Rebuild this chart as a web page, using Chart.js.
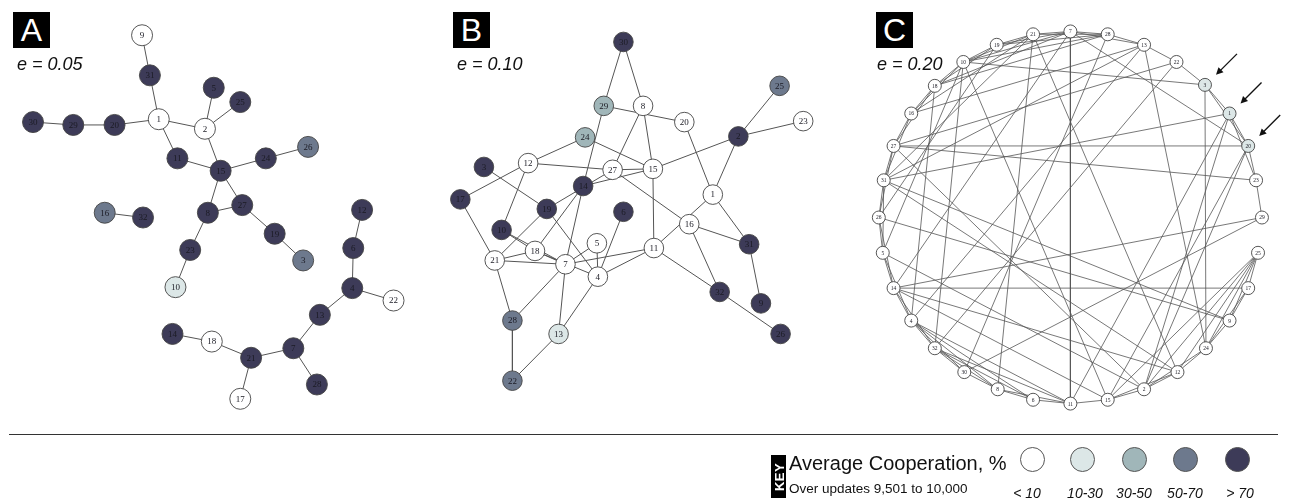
<!DOCTYPE html>
<html>
<head>
<meta charset="utf-8">
<script src="https://cdn.jsdelivr.net/npm/chart.js@4.4.1/dist/chart.umd.min.js"></script>
<style>
  body { margin: 0; background: #fff; font-family: "Liberation Sans", Arial, sans-serif; }
  #wrap { position: relative; width: 1293px; height: 498px; overflow: hidden; }
  #net { position: absolute; left: 0; top: 0; }
  .tag { position: absolute; top: 12px; width: 37px; height: 36px; background: #000; color: #fff;
         font-size: 32px; line-height: 37px; text-align: center; }
  .eq { position: absolute; top: 54px; font-style: italic; font-size: 18px; line-height: 20px; color: #111; }
  .rule { position: absolute; left: 9px; top: 434px; width: 1269px; height: 0; border-top: 1.5px solid #333; }
  .key { position: absolute; left: 771px; top: 455px; width: 15px; height: 43px; background: #000; }
  .key span { position: absolute; left: 50%; top: 50%; transform: translate(-50%, -50%) rotate(-90deg);
              color: #fff; font-weight: bold; font-size: 13px; letter-spacing: 0.5px; }
  .ktitle { position: absolute; left: 789px; top: 452px; font-size: 20px; color: #111; }
  .ksub { position: absolute; left: 789px; top: 481px; font-size: 13.5px; color: #111; }
  .dot { position: absolute; top: 447px; width: 25px; height: 25px; border-radius: 50%; box-sizing: border-box; border: 1px solid #555; }
  .dlab { position: absolute; top: 485px; width: 50px; text-align: center; font-style: italic; font-size: 14px; color: #111; }
</style>
</head>
<body>
<div id="wrap">
  <canvas id="net" width="1293" height="498"></canvas>
  <div class="tag" style="left:13px">A</div>
  <div class="tag" style="left:453px">B</div>
  <div class="tag" style="left:876px">C</div>
  <div class="eq" style="left:17px">e = 0.05</div>
  <div class="eq" style="left:457px">e = 0.10</div>
  <div class="eq" style="left:877px">e = 0.20</div>
  <div class="rule"></div>
  <div class="key"><span>KEY</span></div>
  <div class="ktitle">Average Cooperation, %</div>
  <div class="ksub">Over updates 9,501 to 10,000</div>
  <div id="legend"></div>
</div>
<script>
// cooperation bins
const levelLabels = ['< 10', '10-30', '30-50', '50-70', '> 70'];
const levelColors = ['#ffffff', '#dce7e7', '#a0b6b9', '#6d798d', '#3d3b58'];

// panel A, e = 0.05
const aIds   = [9, 31, 5, 25, 30, 29, 20, 1, 2, 26, 11, 24, 15, 27, 8, 16, 32, 12, 19, 23, 6, 3, 10, 4, 22, 13, 14, 18, 7, 21, 28, 17];
const aX     = [133, 141, 206, 233, 22, 63, 105, 150, 197, 302, 169, 259, 213, 235, 200, 95, 134, 357, 268, 182, 348, 297, 167, 347, 389, 314, 164, 204, 287, 244, 311, 233];
const aY     = [25, 67, 80, 95, 116, 119, 119, 113, 123, 142, 154, 154, 167, 203, 211, 211, 216, 208, 233, 250, 248, 261, 289, 290, 303, 318, 338, 346, 353, 363, 391, 406];
const aLevel = [0, 4, 4, 4, 4, 4, 4, 0, 0, 3, 4, 4, 4, 4, 4, 3, 4, 4, 4, 4, 4, 3, 1, 4, 0, 4, 4, 0, 4, 4, 4, 0];
const aEdges = [[9,31],[31,1],[1,20],[20,29],[29,30],[1,2],[1,11],[2,5],[2,25],[2,15],[11,15],[15,24],[24,26],
  [15,8],[15,27],[8,27],[27,19],[19,3],[8,23],[23,10],[16,32],[12,6],[6,4],[4,22],[4,13],[13,7],[7,21],[7,28],
  [21,18],[18,14],[21,17]];

// panel B, e = 0.10
const bIds   = [30, 25, 29, 8, 20, 23, 2, 24, 12, 3, 27, 15, 14, 17, 1, 19, 6, 16, 10, 5, 11, 31, 18, 21, 7, 4, 32, 9, 28, 13, 26, 22];
const bX     = [623, 782, 603, 643, 685, 806, 740, 584, 526, 481, 612, 653, 582, 457, 714, 545, 623, 690, 499, 596, 654, 751, 533, 492, 564, 597, 721, 763, 510, 557, 783, 510];
const bY     = [32, 78, 99, 99, 116, 115, 131, 132, 159, 163, 166, 165, 183, 197, 192, 207, 210, 223, 229, 243, 248, 244, 251, 261, 265, 278, 294, 306, 324, 338, 338, 387];
const bLevel = [4, 3, 2, 0, 0, 0, 4, 2, 0, 4, 0, 0, 4, 4, 0, 4, 4, 0, 4, 0, 0, 4, 0, 0, 0, 0, 4, 4, 3, 1, 4, 3];
const bEdges = [[30,29],[30,8],[29,20],[29,14],[14,7],[14,18],[14,15],[8,27],[8,15],[20,1],[2,25],[2,23],[2,15],
  [2,1],[24,12],[24,15],[12,27],[12,17],[12,10],[3,19],[27,15],[27,19],[27,16],[15,11],[17,21],[19,21],[19,4],
  [10,18],[10,7],[18,21],[18,7],[18,4],[21,7],[21,28],[7,5],[7,11],[7,28],[7,13],[5,4],[6,4],[4,11],[4,13],
  [11,1],[11,32],[1,31],[16,31],[16,32],[31,9],[32,26],[28,22],[13,22]];

// panel C, e = 0.20
const cIds   = [7, 21, 28, 19, 13, 10, 22, 18, 3, 16, 1, 27, 20, 31, 23, 26, 29, 5, 25, 14, 17, 4, 9, 32, 24, 30, 12, 8, 2, 6, 15, 11];
const cX     = [1078, 1040, 1116, 1003, 1153, 969, 1186, 940, 1215, 916, 1240, 898, 1259, 888, 1267, 883, 1273, 887, 1269, 898, 1259, 916, 1240, 940, 1216, 970, 1187, 1004, 1153, 1040, 1116, 1078];
const cY     = [21, 24, 24, 35, 35, 53, 53, 78, 77, 107, 107, 141, 141, 177, 177, 216, 216, 253, 253, 290, 290, 324, 324, 353, 353, 378, 378, 396, 396, 407, 407, 411];
const cLevel = [0, 0, 0, 0, 0, 0, 0, 0, 1, 0, 1, 0, 1, 0, 0, 0, 0, 0, 0, 0, 0, 0, 0, 0, 0, 0, 0, 0, 0, 0, 0, 0];
const cEdges = [[7,21],[21,19],[19,10],[10,18],[18,16],[16,27],[27,31],[31,26],[26,5],[5,14],[14,4],[4,32],
  [32,30],[30,8],[8,6],[6,11],[11,15],[15,2],[2,12],[12,24],[24,9],[9,17],[17,25],[29,23],[23,20],[20,1],[1,3],
  [3,22],[22,13],[13,28],[28,7],
  [7,19],[21,10],[19,18],[10,16],[18,27],[16,31],[27,26],[31,5],[26,14],[5,4],[14,32],[4,30],[32,8],[4,8],
  [32,6],[8,11],[4,6],[15,12],[2,24],[24,17],[9,25],[28,21],[13,7],[23,1],[20,3],
  [7,11],[27,20],[14,17],[3,24],[27,23],[31,1],[14,29],[30,29],[26,9],[5,2],[14,15],[14,12],[8,21],[10,3],
  [7,20],[25,24],[25,12],[25,2],[25,15],[1,11],[20,15],[1,2],[13,24],[16,13],[22,32],[18,28],[10,28],[19,28],
  [18,7],[10,7],[16,21],[31,21],[26,19],[5,10],[4,18],[32,10],[14,7],[27,22],[31,13],[27,2],[31,12],[10,15],
  [21,12],[28,30],[13,4],[20,2],[31,9],[4,11],[32,11]];

const panels = [
  { ids: aIds, x: aX, y: aY, level: aLevel, edges: aEdges, r: 10.5, font: 9, lw: 1 },
  { ids: bIds, x: bX, y: bY, level: bLevel, edges: bEdges, r: 9.8, font: 9, lw: 1 },
  { ids: cIds, x: cX, y: cY, level: cLevel, edges: cEdges, r: 6.5, font: 5.5, lw: 0.8 }
];

const datasets = [];
panels.forEach(p => {
  const pos = {};
  p.ids.forEach((id, i) => { pos[id] = { x: p.x[i], y: p.y[i] }; });
  p.edges.forEach(([s, t]) => {
    datasets.push({
      type: 'scatter',
      data: [pos[s], pos[t]],
      showLine: true,
      borderColor: '#555',
      borderWidth: p.lw,
      pointRadius: 0,
      order: 1
    });
  });
  datasets.push({
    type: 'scatter',
    data: p.ids.map((id, i) => ({ x: p.x[i], y: p.y[i] })),
    ids: p.ids,
    labelSize: p.font,
    pointRadius: p.r,
    pointBackgroundColor: p.level.map(l => levelColors[l]),
    pointBorderColor: '#444',
    pointBorderWidth: 0.9,
    order: 0
  });
});

// node numbers
const nodeLabels = {
  id: 'nodeLabels',
  afterDatasetsDraw(chart) {
    const ctx = chart.ctx;
    ctx.save();
    ctx.fillStyle = '#1b1b24';
    ctx.textAlign = 'center';
    ctx.textBaseline = 'middle';
    chart.data.datasets.forEach((ds, di) => {
      if (!ds.ids) return;
      ctx.font = ds.labelSize + 'px "Liberation Serif", "DejaVu Serif", serif';
      chart.getDatasetMeta(di).data.forEach((pt, i) => {
        ctx.fillText(String(ds.ids[i]), pt.x, pt.y + 0.5);
      });
    });
    ctx.restore();
  }
};

// arrows pointing at nodes 3, 1 and 20 in panel C
const arrowTargets = [3, 1, 20];
const arrows = {
  id: 'arrows',
  afterDatasetsDraw(chart) {
    const ctx = chart.ctx;
    const xs = chart.scales.x, ys = chart.scales.y;
    ctx.save();
    ctx.strokeStyle = '#111';
    ctx.fillStyle = '#111';
    ctx.lineWidth = 1.3;
    arrowTargets.forEach(id => {
      const i = cIds.indexOf(id);
      const tx = xs.getPixelForValue(cX[i]) + 11, ty = ys.getPixelForValue(cY[i]) - 10;
      const sx = tx + 21, sy = ty - 21;
      ctx.beginPath(); ctx.moveTo(sx, sy); ctx.lineTo(tx + 3, ty - 3); ctx.stroke();
      ctx.beginPath();
      ctx.moveTo(tx, ty);
      ctx.lineTo(tx + 7.5, ty - 2.5);
      ctx.lineTo(tx + 2.5, ty - 7.5);
      ctx.closePath(); ctx.fill();
    });
    ctx.restore();
  }
};

new Chart(document.getElementById('net'), {
  type: 'scatter',
  data: { datasets },
  options: {
    responsive: false,
    animation: false,
    events: [],
    layout: { padding: 0 },
    plugins: { legend: { display: false }, tooltip: { enabled: false } },
    scales: {
      x: { type: 'linear', min: 0, max: 1293, display: false },
      y: { type: 'linear', min: 0, max: 498, reverse: true, display: false }
    }
  },
  plugins: [nodeLabels, arrows]
});

// key swatches
const dotX = [1032, 1082, 1134, 1185, 1237];
const labX = [1027, 1085, 1134, 1185, 1240];
const legend = document.getElementById('legend');
levelLabels.forEach((txt, i) => {
  const d = document.createElement('div');
  d.className = 'dot';
  d.style.left = (dotX[i] - 12.5) + 'px';
  d.style.background = levelColors[i];
  legend.appendChild(d);
  const l = document.createElement('div');
  l.className = 'dlab';
  l.style.left = (labX[i] - 25) + 'px';
  l.textContent = txt;
  legend.appendChild(l);
});
</script>
</body>
</html>
